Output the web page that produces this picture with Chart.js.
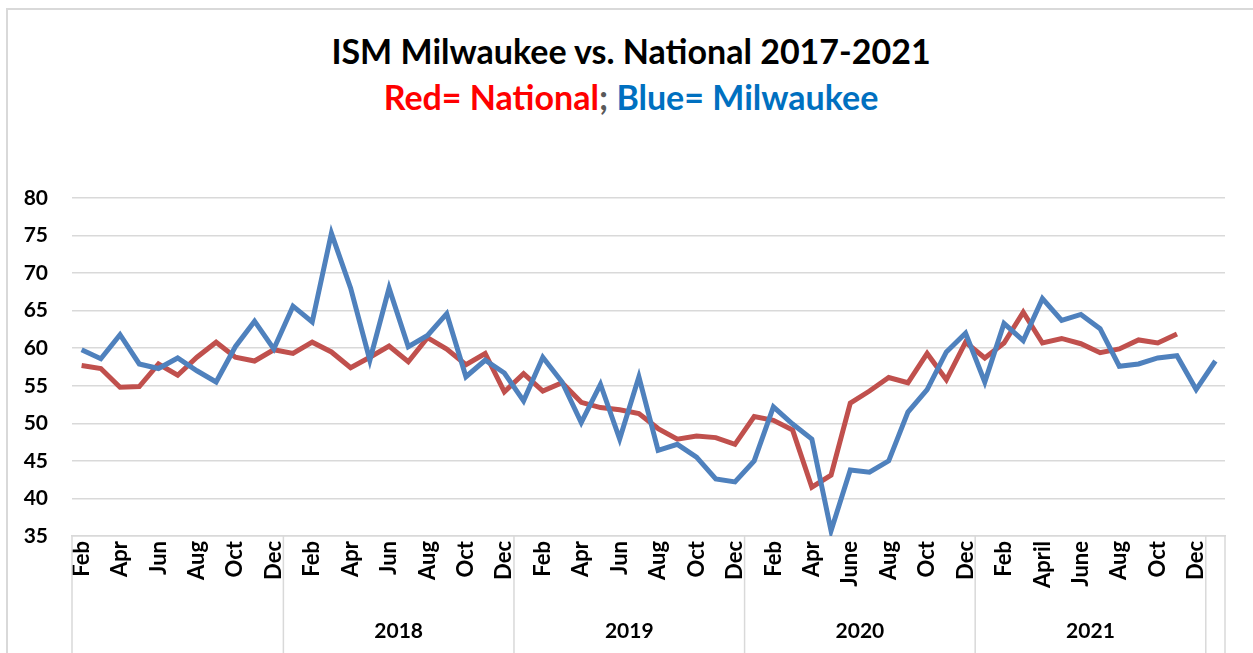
<!DOCTYPE html>
<html>
<head>
<meta charset="utf-8">
<script src="https://cdn.jsdelivr.net/npm/chart.js"></script>
<style>
  body { margin: 0; background: #fff; }
  #wrap { position: relative; width: 1253px; height: 653px; overflow: hidden; }
  #frame { position: absolute; left: 6px; top: 8px; width: 1300px; height: 700px;
           border-left: 2px solid #d9d9d9; border-top: 2px solid #d9d9d9; }
  .title { position: absolute; left: 0; width: 1262px; text-align: center;
           font-family: Lato, sans-serif; font-weight: bold; font-size: 34px; line-height: 34px; }
  #t1 { top: 34px; color: #000; }
  #t2 { top: 80px; }
  #chart { position: absolute; left: 0; top: 0; }
</style>
</head>
<body>
<div id="wrap">
  <div id="frame"></div>
  <div class="title" id="t1">ISM Milwaukee vs. National 2017-2021</div>
  <div class="title" id="t2"><span style="color:#ff0000">Red= National</span><span style="color:#595959">;</span> <span style="color:#0070c0">Blue= Milwaukee</span></div>
  <canvas id="chart" width="1253" height="653"></canvas>
</div>
<script>
// Feb 2017 .. Jan 2022
const months = [
  'Feb','Mar','Apr','May','Jun','Jul','Aug','Sep','Oct','Nov','Dec',
  'Jan','Feb','Mar','Apr','May','Jun','Jul','Aug','Sep','Oct','Nov','Dec',
  'Jan','Feb','Mar','Apr','May','Jun','Jul','Aug','Sep','Oct','Nov','Dec',
  'Jan','Feb','Mar','Apr','May','June','Jul','Aug','Sep','Oct','Nov','Dec',
  'Jan','Feb','Mar','April','May','June','Jul','Aug','Sep','Oct','Nov','Dec',
  'Jan'
];
const years = [
  '2017','2017','2017','2017','2017','2017','2017','2017','2017','2017','2017',
  '2018','2018','2018','2018','2018','2018','2018','2018','2018','2018','2018','2018',
  '2019','2019','2019','2019','2019','2019','2019','2019','2019','2019','2019','2019',
  '2020','2020','2020','2020','2020','2020','2020','2020','2020','2020','2020','2020',
  '2021','2021','2021','2021','2021','2021','2021','2021','2021','2021','2021','2021',
  '2022'
];
const shownYears = ['2018', '2019', '2020', '2021'];

const milwaukee = [
  59.8, 58.6, 61.8, 57.9, 57.3, 58.7, 57.0, 55.5, 60.2, 63.6, 59.9,
  65.6, 63.5, 75.3, 68.0, 58.4, 68.0, 60.2, 61.7, 64.6, 56.2, 58.4, 56.7,
  53.0, 58.8, 55.5, 50.1, 55.2, 47.9, 56.2, 46.4, 47.2, 45.5, 42.6, 42.2,
  45.0, 52.2, 49.9, 47.9, 35.7, 43.8, 43.5, 45.0, 51.5, 54.5, 59.5, 62.0,
  55.5, 63.3, 61.0, 66.6, 63.7, 64.5, 62.6, 57.6, 57.9, 58.7, 59.0, 54.5,
  58.3
];
const national = [
  57.7, 57.3, 54.8, 54.9, 57.9, 56.4, 58.8, 60.8, 58.8, 58.3, 59.8,
  59.3, 60.8, 59.5, 57.4, 58.8, 60.3, 58.2, 61.4, 59.9, 57.8, 59.3, 54.2,
  56.6, 54.3, 55.4, 52.8, 52.1, 51.8, 51.3, 49.3, 47.9, 48.3, 48.1, 47.2,
  50.9, 50.4, 49.1, 41.5, 43.1, 52.7, 54.3, 56.1, 55.4, 59.3, 55.8, 60.8,
  58.7, 60.7, 64.8, 60.7, 61.3, 60.6, 59.4, 59.9, 61.1, 60.7, 61.9, null,
  null
];

const FONT = 'Lato, sans-serif';

// second row of the category axis: year groups with separators
const yearRow = {
    id: 'yearRow',
    afterDraw(chart) {
        const x = chart.scales.x;
        const area = chart.chartArea;
        const ctx = chart.ctx;
        const band = x.getPixelForValue(1) - x.getPixelForValue(0);
        ctx.save();
        ctx.strokeStyle = '#d9d9d9';
        ctx.lineWidth = 1.5;
        ctx.fillStyle = '#000';
        ctx.font = 'bold 21px ' + FONT;
        ctx.textAlign = 'center';
        ctx.textBaseline = 'middle';
        let start = 0;
        for (let i = 1; i <= years.length; i++) {
            if (i < years.length && years[i] === years[start]) continue;
            const left = x.getPixelForValue(start) - band / 2;
            const right = x.getPixelForValue(i - 1) + band / 2;
            ctx.beginPath();
            ctx.moveTo(left, area.bottom);
            ctx.lineTo(left, chart.height);
            if (i === years.length) {
                ctx.moveTo(right, area.bottom);
                ctx.lineTo(right, chart.height);
            }
            ctx.stroke();
            if (shownYears.includes(years[start])) {
                ctx.fillText(years[start], (left + right) / 2, area.bottom + 95);
            }
            start = i;
        }
        ctx.restore();
    }
};

new Chart(document.getElementById('chart'), {
    type: 'line',
    data: {
        labels: months,
        datasets: [
            {
                label: 'Milwaukee',
                data: milwaukee,
                borderColor: '#4f81bd',
                backgroundColor: '#4f81bd',
                borderWidth: 5,
                pointRadius: 0,
                tension: 0,
            },
            {
                label: 'National',
                data: national,
                borderColor: '#c0504d',
                backgroundColor: '#c0504d',
                borderWidth: 5,
                pointRadius: 0,
                tension: 0,
            },
        ]
    },
    options: {
        responsive: false,
        animation: false,
        layout: { padding: { left: 0, top: 198, right: 28, bottom: 0 } },
        plugins: {
            legend: { display: false },
            title: { display: false },
            tooltip: { enabled: false },
        },
        scales: {
            x: {
                offset: true,
                grid: { display: false, drawTicks: false },
                border: { display: true, color: '#d9d9d9', width: 1.5 },
                ticks: {
                    autoSkip: false,
                    minRotation: 90,
                    maxRotation: 90,
                    padding: 5,
                    color: '#000',
                    font: { family: FONT, weight: 'bold', size: 22 },
                    callback: function(value, index) {
                        return index % 2 === 0 ? months[index] : '';
                    }
                },
                afterFit: function(scale) { scale.height = 117; }
            },
            y: {
                min: 35,
                max: 80,
                grid: { color: '#d9d9d9', lineWidth: 1.5, drawTicks: false },
                border: { display: false },
                ticks: {
                    stepSize: 5,
                    padding: 24,
                    color: '#000',
                    font: { family: FONT, weight: 'bold', size: 21 },
                },
                afterFit: function(scale) { scale.width = 72; }
            }
        }
    },
    plugins: [yearRow]
});
</script>
</body>
</html>
